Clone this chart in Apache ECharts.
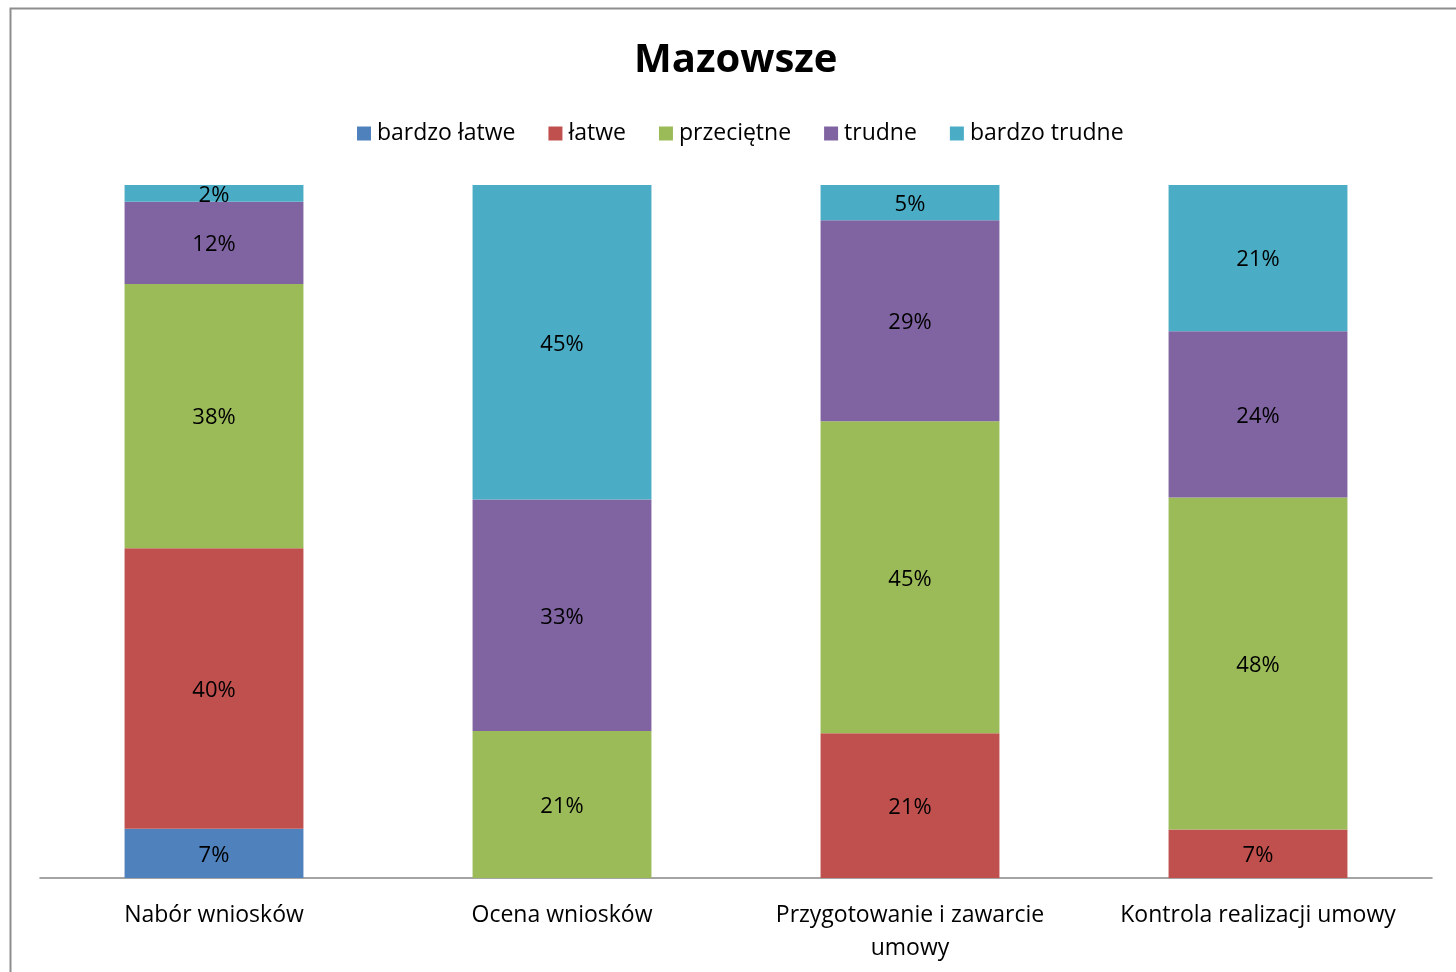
<!DOCTYPE html>
<html>
<head>
<meta charset="utf-8">
<script src="https://cdn.jsdelivr.net/npm/echarts@6/dist/echarts.min.js"></script>
<style>
  html, body { margin: 0; padding: 0; background: #fff; }
  #chart { width: 1456px; height: 972px; }
</style>
</head>
<body>
<div id="chart"></div>
<script>
// Mazowsze - ocena trudności etapów (100% skumulowane)
const categories = ['Nabór wniosków', 'Ocena wniosków', 'Przygotowanie i zawarcie\numowy', 'Kontrola realizacji umowy'];
const seriesNames = ['bardzo łatwe', 'łatwe', 'przeciętne', 'trudne', 'bardzo trudne'];
const colors = ['#4f81bd', '#c0504d', '#9bbb59', '#8064a2', '#4bacc6'];

// udział procentowy (po kolei dla kategorii)
const bardzoLatwe = [7.1, 0, 0, 0];
const latwe = [40.5, 0, 20.9, 7.0];
const przecietne = [38.1, 21.2, 45.0, 47.9];
const trudne = [11.9, 33.4, 29.0, 24.0];
const bardzoTrudne = [2.4, 45.4, 5.1, 21.1];

const rawSeries = [bardzoLatwe, latwe, przecietne, trudne, bardzoTrudne];

// normalizacja do 100%
const totals = categories.map((c, i) => rawSeries.reduce((s, arr) => s + arr[i], 0));
const pct = rawSeries.map(arr => arr.map((v, i) => (v / totals[i]) * 100));

const font = '"Open Sans", "Liberation Sans", sans-serif';

const myChart = echarts.init(document.getElementById('chart'));

const option = {
  animation: false,
  backgroundColor: '#fff',
  title: {
    text: 'Mazowsze',
    left: 629,
    top: 36,
    textStyle: { fontFamily: font, fontSize: 40, fontWeight: 'bold', color: '#000' },
  },
  legend: {
    top: 117,
    left: 352,
    itemWidth: 14,
    itemHeight: 14,
    itemGap: 33,
    icon: 'rect',
    selectedMode: false,
    textStyle: { fontFamily: font, fontSize: 23, color: '#000', padding: [0, 0, 0, 1] },
    data: seriesNames,
  },
  grid: { left: 40, right: 24, top: 185, bottom: 94, containLabel: false },
  xAxis: {
    type: 'category',
    data: categories,
    axisLine: { lineStyle: { color: '#868686', width: 1.5 } },
    axisTick: { show: false },
    axisLabel: {
      fontFamily: font, fontSize: 23, color: '#000', margin: 21, lineHeight: 33, interval: 0,
    },
  },
  yAxis: {
    type: 'value',
    min: 0,
    max: 100,
    show: false,
    splitLine: { show: false },
  },
  graphic: [
    {
      type: 'rect',
      shape: { x: 10.5, y: 8.5, width: 1480, height: 1000 },
      style: { fill: 'none', stroke: '#8e8e8e', lineWidth: 2 },
      silent: true,
    },
  ],
  series: seriesNames.map((name, k) => ({
    name: name,
    type: 'bar',
    stack: 'total',
    barWidth: '51.4%',
    itemStyle: { color: colors[k] },
    label: {
      show: true,
      position: 'inside',
      fontFamily: font,
      fontSize: 22,
      color: '#000',
      offset: [0, 2],
      formatter: p => (p.value > 0 ? Math.round(p.value) + '%' : ''),
    },
    data: pct[k].map(v => (v > 0 ? v : null)),
  })),
};

myChart.setOption(option);
window.addEventListener('resize', myChart.resize);
</script>
</body>
</html>
